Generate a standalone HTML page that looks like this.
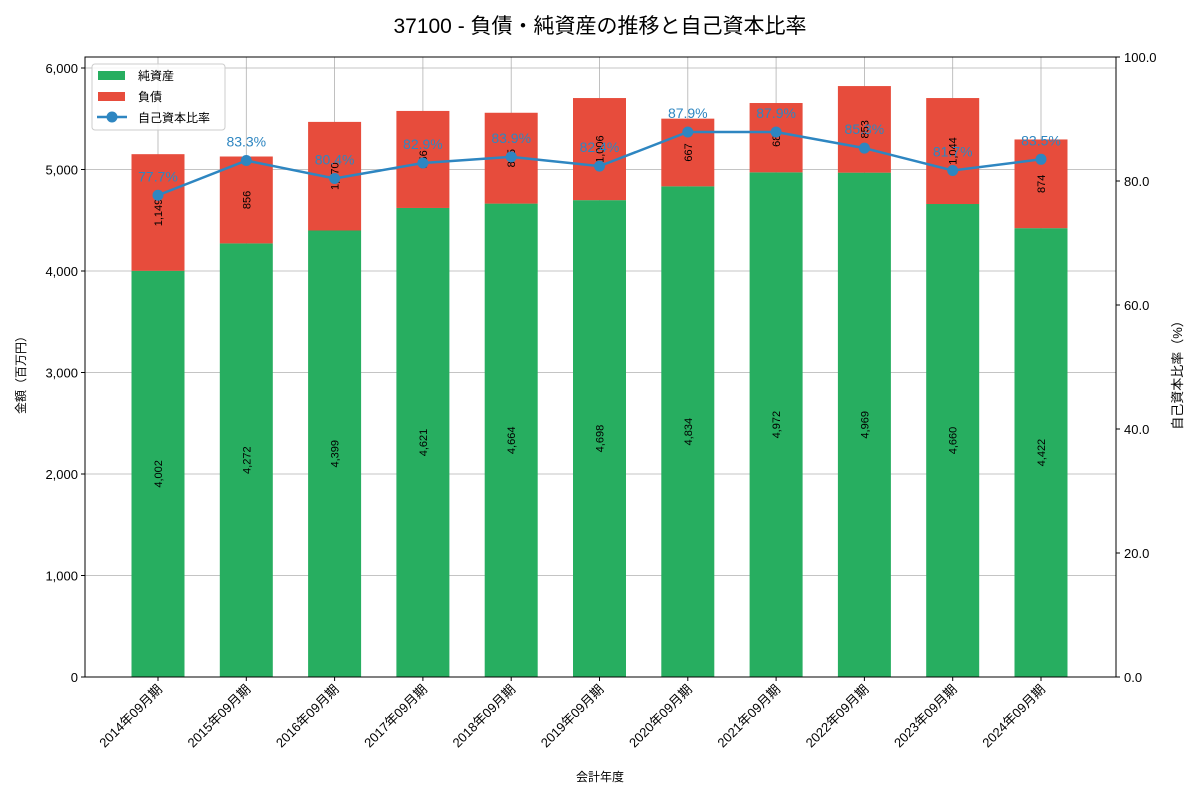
<!DOCTYPE html>
<html><head><meta charset="utf-8">
<style>
body{margin:0;background:#fff;}
svg text{font-family:"Liberation Sans","Noto Sans CJK JP",sans-serif;}
</style></head>
<body>
<svg id="chart" width="1200" height="800" xmlns="http://www.w3.org/2000/svg">
<text x="600" y="33" font-size="21" text-anchor="middle">37100 - 負債・純資産の推移と自己資本比率</text>
<g id="grid"></g>
<g id="bars"></g>
<g id="line"></g>
<rect x="85" y="57" width="1031" height="620" fill="none" stroke="#000" stroke-width="1"/>
<g id="axes"></g>
<text x="600" y="781" font-size="12" text-anchor="middle">会計年度</text>
<text transform="translate(25,372) rotate(-90)" font-size="12" text-anchor="middle">金額（百万円）</text>
<text transform="translate(1182,372) rotate(-90)" font-size="13" text-anchor="middle">自己資本比率（%）</text>
<g>
<rect x="92" y="64" width="133" height="66" fill="#fff" fill-opacity="0.85" stroke="#ccc" rx="3"/>
<rect x="98" y="71" width="27" height="9" fill="#27ae60"/>
<text x="138" y="80" font-size="12">純資産</text>
<rect x="98" y="92" width="27" height="9" fill="#e74c3c"/>
<text x="138" y="101" font-size="12">負債</text>
<line x1="97" y1="117" x2="127" y2="117" stroke="#2e86c1" stroke-width="2.5"/>
<circle cx="112" cy="117" r="5.5" fill="#2e86c1"/>
<text x="138" y="122" font-size="12">自己資本比率</text>
</g>
</svg>
<script>
const categories=["2014年09月期","2015年09月期","2016年09月期","2017年09月期","2018年09月期","2019年09月期","2020年09月期","2021年09月期","2022年09月期","2023年09月期","2024年09月期"];
const netAssets=[4002,4272,4399,4621,4664,4698,4834,4972,4969,4660,4422];
const liabilities=[1149,856,1070,956,895,1006,667,683,853,1044,874];
const ratios=[77.7,83.3,80.4,82.9,83.9,82.4,87.9,87.9,85.3,81.7,83.5];
const leftTicks=[0,1000,2000,3000,4000,5000,6000];
const rightTicks=[0,20,40,60,80,100];

const NS="http://www.w3.org/2000/svg";
const L=85,R=1116,T=57,B=677;
const yL=v=>B-v*(B-68)/6000;
const yR=v=>B-v*(B-T)/100;
const x0=158,x1=1041;
const step=(x1-x0)/(categories.length-1);
const xC=i=>x0+step*i;
const bw=53;
function mk(tag,attrs,parent){const e=document.createElementNS(NS,tag);for(const k in attrs)e.setAttribute(k,attrs[k]);parent.appendChild(e);return e;}
const grid=document.getElementById('grid'),bars=document.getElementById('bars'),line=document.getElementById('line'),axes=document.getElementById('axes');
const fmt=v=>v.toLocaleString('en-US');

leftTicks.forEach(t=>{
  const y=yL(t);
  const g=mk('line',{x1:L,x2:R,y1:y,y2:y,stroke:'#b0b0b0','stroke-width':0.8},grid);
  
  
  const tk=mk('line',{x1:L-4,x2:L,y1:y,y2:y,stroke:'#000'},axes);
  
  
  const tx=mk('text',{x:L-7,y:y+5,'font-size':13,'text-anchor':'end'},axes);
  tx.textContent=fmt(t);
  
  
});
rightTicks.forEach(t=>{
  const y=yR(t);
  const tk=mk('line',{x1:R,x2:R+4,y1:y,y2:y,stroke:'#000'},axes);
  
  
  const tx=mk('text',{x:R+8,y:y+5,'font-size':13},axes);
  tx.textContent=t.toFixed(1);
  
  
});
categories.forEach((c,i)=>{
  const x=xC(i);
  const g=mk('line',{x1:x,x2:x,y1:T,y2:B,stroke:'#b0b0b0','stroke-width':0.8},grid);
  
  
  const tk=mk('line',{x1:x,x2:x,y1:B,y2:B+4,stroke:'#000'},axes);
  
  
  const tx=mk('text',{transform:`translate(${x+5},${B+13}) rotate(-45)`,'font-size':13,'text-anchor':'end'},axes);
  tx.textContent=c;
  
  
  const n=netAssets[i],d=liabilities[i];
  const b1=mk('rect',{x:x-bw/2,y:yL(n),width:bw,height:B-yL(n),fill:'#27ae60'},bars);
  
  
  const b2=mk('rect',{x:x-bw/2,y:yL(n+d),width:bw,height:yL(n)-yL(n+d),fill:'#e74c3c'},bars);
  
  
  const l1=mk('text',{transform:`translate(${x+4},${yL(n/2)}) rotate(-90)`,'font-size':11,'text-anchor':'middle'},bars);
  l1.textContent=fmt(n);
  
  
  const l2=mk('text',{transform:`translate(${x+4},${yL(n+d/2)}) rotate(-90)`,'font-size':11,'text-anchor':'middle'},bars);
  l2.textContent=fmt(d);
  
  
});
const pts=ratios.map((r,i)=>xC(i)+','+yR(r)).join(' ');
const pl=mk('polyline',{points:pts,fill:'none',stroke:'#2e86c1','stroke-width':2.5},line);


ratios.forEach((r,i)=>{
  const c=mk('circle',{cx:xC(i),cy:yR(r),r:5.5,fill:'#2e86c1'},line);
  
  
  const t=mk('text',{x:xC(i),y:yR(r)-14,'font-size':14,'text-anchor':'middle',fill:'#2e86c1'},line);
  t.textContent=r.toFixed(1)+'%';
  
  
});
</script>
</body></html>
